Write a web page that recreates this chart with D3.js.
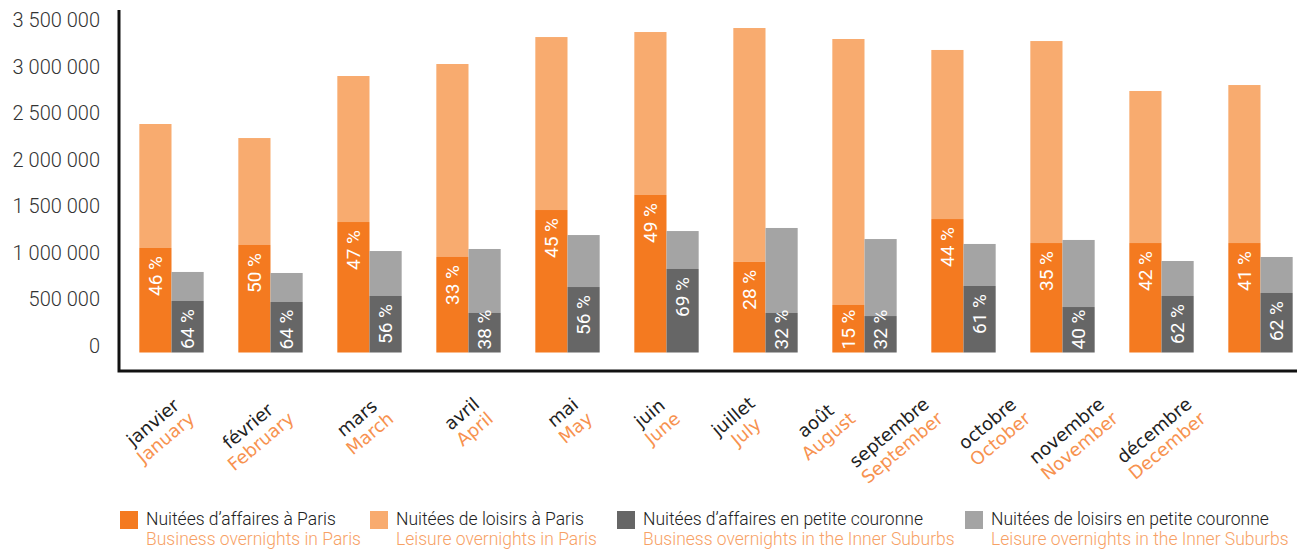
<!DOCTYPE html>
<html>
<head>
<meta charset="utf-8">
<script src="https://cdn.jsdelivr.net/npm/d3@7"></script>
<style>
	body { margin: 0; background: #fff; }
	svg text { font-family: Roboto, "DejaVu Sans", sans-serif; }
</style>
</head>
<body>
<div id="chart"></div>
<script>
// mois (fr / en)
const months = ['janvier', 'février', 'mars', 'avril', 'mai', 'juin', 'juillet', 'août', 'septembre', 'octobre', 'novembre', 'décembre'];
const monthsEn = ['January', 'February', 'March', 'April', 'May', 'June', 'July', 'August', 'September', 'October', 'November', 'December'];

// nuitées
const businessParis = [1124000, 1156000, 1403000, 1027000, 1532000, 1694000, 976000, 511000, 1435000, 1177000, 1177000, 1177000];
const leisureParis = [1333000, 1150000, 1570000, 2075000, 1860000, 1752000, 2513000, 2860000, 1818000, 2172000, 1635000, 1699000];
const businessSuburbs = [554000, 543000, 608000, 425000, 704000, 898000, 425000, 392000, 715000, 489000, 608000, 640000];
const leisureSuburbs = [312000, 312000, 483000, 688000, 559000, 408000, 914000, 828000, 452000, 721000, 376000, 387000];

// part des nuitées d'affaires
const pctParis = [46, 50, 47, 33, 45, 49, 28, 15, 44, 35, 42, 41];
const pctSuburbs = [64, 64, 56, 38, 56, 69, 32, 32, 61, 40, 62, 62];

const yTicks = [0, 500000, 1000000, 1500000, 2000000, 2500000, 3000000, 3500000];

const legendFr = ['Nuitées d’affaires à Paris', 'Nuitées de loisirs à Paris', 'Nuitées d’affaires en petite couronne', 'Nuitées de loisirs en petite couronne'];
const legendEn = ['Business overnights in Paris', 'Leisure overnights in Paris', 'Business overnights in the Inner Suburbs', 'Leisure overnights in the Inner Suburbs'];

const colors = ['#f47a20', '#f8ab6f', '#666666', '#a4a4a4'];

const W = 1301, H = 549;
const svg = d3.select('#chart').append('svg')
	.attr('width', W)
	.attr('height', H);

const y = d3.scaleLinear().domain([0, 3500000]).range([352.5, 27]);
const x = d3.scaleBand().domain(months).range([122, 1310]).paddingInner(0.35).paddingOuter(0.175);
const half = x.bandwidth() / 2;
const fmt = d3.formatLocale({ decimal: ',', thousands: ' ', grouping: [3], currency: ['', ''] }).format(',');

// barres empilées : [affaires, loisirs]
const groups = [
	{ biz: businessParis, leis: leisureParis, pct: pctParis, dx: 0, c: [colors[0], colors[1]] },
	{ biz: businessSuburbs, leis: leisureSuburbs, pct: pctSuburbs, dx: half, c: [colors[2], colors[3]] }
];

groups.forEach(function (s) {
	const g = svg.append('g');
	g.selectAll('.leis')
		.data(months)
		.join('rect')
		.attr('x', (d, i) => x(d) + s.dx)
		.attr('width', half)
		.attr('y', (d, i) => y(s.biz[i] + s.leis[i]))
		.attr('height', (d, i) => y(s.biz[i]) - y(s.biz[i] + s.leis[i]))
		.attr('fill', s.c[1]);
	g.selectAll('.biz')
		.data(months)
		.join('rect')
		.attr('x', (d, i) => x(d) + s.dx)
		.attr('width', half)
		.attr('y', (d, i) => y(s.biz[i]))
		.attr('height', (d, i) => y(0) - y(s.biz[i]))
		.attr('fill', s.c[0]);

	// étiquettes % (verticales, calées en haut du segment affaires)
	g.selectAll('.pct')
		.data(months)
		.join('text')
		.attr('text-anchor', 'end')
		.attr('dominant-baseline', 'central')
		.attr('fill', '#fff')
		.style('font-size', '19px')
		.text((d, i) => s.pct[i] + ' %')
		.attr('transform', function (d, i) {
			const len = this.getComputedTextLength();
			const ty = Math.min(y(s.biz[i]) + 8, y(0) - 3 - len);
			return `translate(${x(d) + s.dx + half / 2},${ty}) rotate(-90)`;
		});
});

// axe Y (labels seuls)
svg.append('g').selectAll('text')
	.data(yTicks)
	.join('text')
	.attr('x', 100)
	.attr('y', d => y(d) - 7)
	.attr('text-anchor', 'end')
	.attr('dominant-baseline', 'central')
	.attr('fill', '#333')
	.style('font-size', '20px')
	.style('font-weight', 300)
	.text(d => fmt(d));

// cadre
svg.append('path')
	.attr('d', 'M119,10V371H1297')
	.attr('fill', 'none')
	.attr('stroke', '#111')
	.attr('stroke-width', 3);

// mois
const labelX = d3.scaleLinear().domain([0, 4, 11]).range([192, 590, 1203]);
svg.append('g').selectAll('g')
	.data(months)
	.join('g')
	.attr('transform', (d, i) => `translate(${labelX(i)},416) rotate(-40)`)
	.each(function (d, i) {
		const g = d3.select(this);
		const fr = g.append('text').text(d).attr('fill', '#222');
		const en = g.append('text').text(monthsEn[i]).attr('fill', '#f7924f');
		g.selectAll('text').style('font-family', '"DejaVu Sans", sans-serif').style('font-size', '18px');
		const w = Math.max(fr.node().getComputedTextLength(), en.node().getComputedTextLength());
		fr.attr('x', -w / 2).attr('y', -14).attr('text-anchor', 'middle');
		en.attr('x', -w / 2).attr('y', 6).attr('text-anchor', 'middle');
	});

// légende
const legX = [120, 370, 617, 965];
const leg = svg.append('g').selectAll('g')
	.data(legendFr)
	.join('g')
	.attr('transform', (d, i) => `translate(${legX[i]},511)`);
leg.append('rect')
	.attr('width', 18)
	.attr('height', 18)
	.attr('fill', (d, i) => colors[i]);
leg.append('text')
	.attr('x', 26)
	.attr('y', 14)
	.attr('fill', '#222')
	.style('font-size', '17.5px')
	.style('font-weight', 300)
	.text(d => d);
leg.append('text')
	.attr('x', 26)
	.attr('y', 34)
	.attr('fill', '#f7a165')
	.style('font-size', '17.5px')
	.style('font-weight', 300)
	.text((d, i) => legendEn[i]);
</script>
</body>
</html>
